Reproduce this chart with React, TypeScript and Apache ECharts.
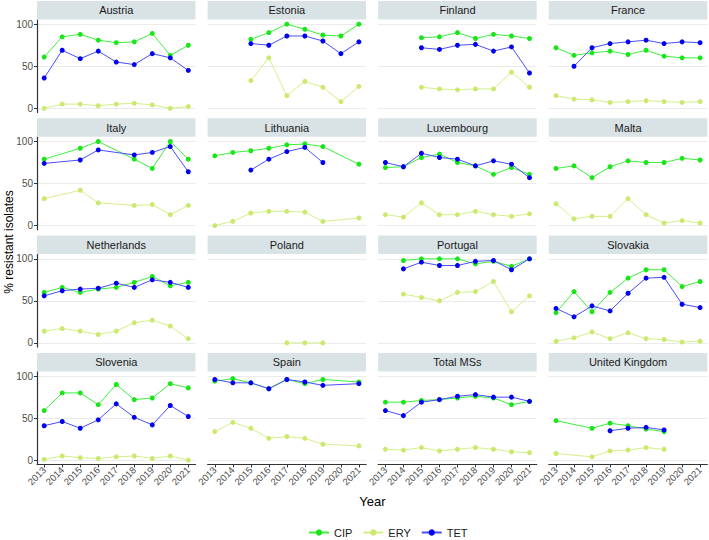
import React, { useEffect, useRef } from "react";
import * as echarts from "echarts";

const years = [2013, 2014, 2015, 2016, 2017, 2018, 2019, 2020, 2021];
const countries = [
  "Austria", "Estonia", "Finland", "France",
  "Italy", "Lithuania", "Luxembourg", "Malta",
  "Netherlands", "Poland", "Portugal", "Slovakia",
  "Slovenia", "Spain", "Total MSs", "United Kingdom",
];
const drugs = ["CIP", "ERY", "TET"];
const yTicks = [0, 50, 100];

const N = null;
const cipValues = [
  [61, 85, 88, 81, 78, 79, 89, 63, 75],
  [N, N, 82, 90, 100, 94, 87, 86, 100],
  [N, N, 84, 85, 90, 83, 88, 86, 83],
  [72, 63, 66, 68, 64, 69, 62, 60, 60],
  [79, N, 92, 100, N, 79, 68, 100, 79],
  [83, 87, 89, 92, 96, 97, 94, N, 73],
  [69, 70, 81, 85, 75, 71, 61, 69, 61],
  [68, 71, 57, 70, 77, 75, 75, 80, 78],
  [60, 66, 60, 64, 66, 72, 79, 68, 72],
  [N, N, N, N, N, N, N, N, N],
  [N, 98, 100, 100, 100, 94, 97, 91, 100],
  [36, 61, 37, 60, 77, 87, 87, 67, 73],
  [59, 80, 80, 66, 90, 72, 74, 91, 86],
  [94, 97, 92, 85, 96, 91, 96, N, 93],
  [69, 69, 71, 72, 74, 76, 74, 66, 70],
  [47, N, 38, 44, 41, 37, 34, N, N],
];
const eryValues = [
  [0, 5, 5, 3, 5, 6, 4, 0, 2],
  [N, N, 33, 60, 15, 32, 25, 8, 26],
  [N, N, 25, 23, 22, 23, 23, 43, 25],
  [15, 11, 10, 7, 8, 9, 8, 7, 8],
  [32, N, 42, 27, N, 24, 25, 13, 24],
  [0, 5, 15, 17, 17, 16, 5, N, 9],
  [13, 10, 27, 13, 13, 17, 13, 11, 14],
  [26, 8, 11, 11, 32, 13, 3, 6, 3],
  [14, 17, 14, 10, 14, 24, 27, 20, 5],
  [N, N, N, N, 0, 0, 0, N, N],
  [N, 58, 54, 50, 60, 61, 73, 37, 56],
  [2, 6, 13, 5, 12, 5, 4, 1, 2],
  [1, 5, 3, 2, 4, 5, 2, 5, 0],
  [34, 45, 38, 26, 28, 26, 19, N, 17],
  [13, 12, 15, 11, 13, 15, 13, 10, 9],
  [8, N, 4, 11, 12, 15, 13, N, N],
];
const tetValues = [
  [36, 69, 59, 68, 55, 52, 65, 60, 45],
  [N, N, 77, 75, 86, 86, 80, 65, 79],
  [N, N, 72, 70, 75, 76, 68, 73, 42],
  [N, 50, 72, 77, 79, 81, 77, 79, 78],
  [74, N, 78, 90, N, 84, 87, 94, 64],
  [N, N, 66, 79, 88, 93, 75, N, N],
  [75, 70, 86, 81, 79, 71, 77, 73, 57],
  [N, N, N, N, N, N, N, N, N],
  [56, 62, 64, 65, 71, 66, 75, 72, 66],
  [N, N, N, N, N, N, N, N, N],
  [N, 88, 96, 92, 92, 97, 98, 87, 100],
  [41, 31, 44, 38, 59, 77, 78, 46, 42],
  [41, 46, 38, 48, 67, 51, 42, 65, 52],
  [96, 92, 92, 85, 96, 93, 89, N, 91],
  [59, 53, 69, 72, 76, 78, 75, 75, 70],
  [N, N, N, 35, 38, 39, 36, N, N],
];

const FONT = "'Liberation Sans', Arial, sans-serif";
const pointColors = ["#19e619", "#cbe86f", "#0000ee"];
const lineColors = ["#3cef3c", "#d5ef88", "#4c4cff"];

const COL_LEFT = 37;
const COL_STEP = 170.6;
const PANEL_W = 158.5;
const ROW_TOP = 20;
const ROW_STEP = 117.3;
const PANEL_H = 92.5;
const STRIP_H = 18.5;

export default function App() {
  const ref = useRef<HTMLDivElement>(null);

  useEffect(() => {
    document.body.style.margin = "0";
    if (!ref.current) return;
    const chart = echarts.init(ref.current, undefined, { renderer: "svg" });
    const allValues = [cipValues, eryValues, tetValues];

    const grids: any[] = [];
    const xAxes: any[] = [];
    const yAxes: any[] = [];
    const series: any[] = [];
    const graphics: any[] = [];

    countries.forEach((name, i) => {
      const r = Math.floor(i / 4);
      const c = i % 4;
      const left = COL_LEFT + c * COL_STEP;
      const top = ROW_TOP + r * ROW_STEP;
      const bottomRow = r === 3;
      const firstCol = c === 0;
      grids.push({ left, top, width: PANEL_W, height: PANEL_H, containLabel: false });
      xAxes.push({
        type: "value",
        gridIndex: i,
        min: 2012.6,
        max: 2021.4,
        splitLine: { show: false },
        axisLine: { show: bottomRow, onZero: false, lineStyle: { color: "#333333", width: 1.2 } },
        axisTick: { show: bottomRow, length: 3, customValues: years, lineStyle: { color: "#333333" } },
        axisLabel: {
          show: bottomRow,
          customValues: years,
          rotate: 45,
          margin: 4,
          fontSize: 9.5,
          color: "#4d4d4d",
          fontFamily: FONT,
          formatter: (v: number) => String(v),
        },
      });
      yAxes.push({
        type: "value",
        gridIndex: i,
        min: -5,
        max: 105,
        splitLine: { show: true, lineStyle: { color: "#ebebeb", width: 1 } },
        axisLine: { show: firstCol, onZero: false, lineStyle: { color: "#333333", width: 1.2 } },
        axisTick: { show: firstCol, length: 3, customValues: yTicks, lineStyle: { color: "#333333" } },
        axisLabel: {
          show: firstCol,
          customValues: yTicks,
          margin: 4,
          fontSize: 10,
          color: "#4d4d4d",
          fontFamily: FONT,
        },
      });
      drugs.forEach((d, k) => {
        const vals = allValues[k][i];
        const data = years
          .map((y, j) => (vals[j] == null ? null : [y, vals[j]]))
          .filter((p) => p !== null);
        series.push({
          type: "line",
          name: d,
          xAxisIndex: i,
          yAxisIndex: i,
          data,
          symbol: "circle",
          symbolSize: 5,
          itemStyle: { color: pointColors[k] },
          lineStyle: { color: lineColors[k], width: 1 },
          z: 2 + k,
        });
      });
      graphics.push({
        type: "rect",
        shape: { x: left, y: top - STRIP_H - 0.5, width: PANEL_W, height: STRIP_H },
        style: { fill: "#d9e3e6" },
        silent: true,
      });
      graphics.push({
        type: "text",
        x: left + PANEL_W / 2,
        y: top - STRIP_H / 2 - 0.5,
        style: {
          text: name,
          fontSize: 11,
          fontFamily: FONT,
          fill: "#1a1a1a",
          textAlign: "center",
          textVerticalAlign: "middle",
        },
        silent: true,
      });
    });

    graphics.push({
      type: "text",
      x: 9,
      y: 242,
      rotation: Math.PI / 2,
      style: {
        text: "% resistant isolates",
        fontSize: 12,
        fontFamily: FONT,
        fill: "#000000",
        textAlign: "center",
        textVerticalAlign: "middle",
      },
    });
    graphics.push({
      type: "text",
      x: 372.5,
      y: 501,
      style: {
        text: "Year",
        fontSize: 13,
        fontFamily: FONT,
        fill: "#000000",
        textAlign: "center",
        textVerticalAlign: "middle",
      },
    });

    chart.setOption({
      animation: false,
      backgroundColor: "#ffffff",
      textStyle: { fontFamily: FONT },
      grid: grids,
      xAxis: xAxes,
      yAxis: yAxes,
      series,
      graphic: graphics,
      legend: {
        data: drugs,
        left: 308,
        top: 527,
        padding: 0,
        itemWidth: 20,
        itemHeight: 8,
        itemGap: 10,
        textStyle: { fontSize: 11, color: "#1a1a1a", fontFamily: FONT },
      },
    });
    return () => chart.dispose();
  }, []);

  return <div ref={ref} style={{ width: 709, height: 540 }} />;
}
